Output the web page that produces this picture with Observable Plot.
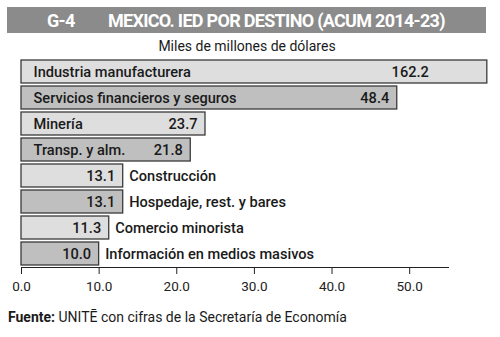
<!DOCTYPE html>
<html><head><meta charset="utf-8">
<script src="https://cdn.jsdelivr.net/npm/d3@7"></script>
<script src="https://cdn.jsdelivr.net/npm/@observablehq/plot@0.6"></script>
<style>
body{margin:0;background:#fff;font-family:Roboto,"Noto Sans",sans-serif;color:#1a1a1a;}
#wrap{position:relative;width:500px;height:337px;overflow:hidden;background:#fff;}
#title{position:absolute;left:7px;top:7px;width:479px;height:26px;background:#8b8b8b;color:#fff;font-weight:700;font-size:18px;line-height:27px;white-space:nowrap;letter-spacing:-0.7px;}
#title .num{position:absolute;left:40px;}
#title .txt{position:absolute;left:101px;}
#sub{position:absolute;left:0;top:37px;width:494px;text-align:center;font-size:14px;line-height:18px;}
#chart{position:absolute;left:0;top:52px;}
#cap{position:absolute;left:8px;top:308px;font-size:14px;line-height:18px;white-space:nowrap;}
</style></head>
<body><div id="wrap">
<div id="title"><span class="num">G-4</span><span class="txt">MEXICO. IED POR DESTINO (ACUM 2014-23)</span></div>
<div id="sub">Miles de millones de dólares</div>
<div id="chart"></div>
<div id="cap"><b>Fuente:</b> UNITĒ con cifras de la Secretaría de Economía</div>
</div>
<script>
const categories = ["Industria manufacturera","Servicios financieros y seguros","Minería","Transp. y alm.","Construcción","Hospedaje, rest. y bares","Comercio minorista","Información en medios masivos"];
const values = [162.2, 48.4, 23.7, 21.8, 13.1, 13.1, 11.3, 10.0];
const xTicks = [0, 10, 20, 30, 40, 50];
const tickLabels = ["0.0","10.0","20.0","30.0","40.0","50.0"];

const data = categories.map((c, i) => ({name: c, value: values[i], label: values[i].toFixed(1), shade: i % 2}));
const X_MAX = 55, X_CUT = 60, LABEL_CUT = 53.5, INSIDE = 20;
const H = 248, MT = 6, MB = 33, PAD = 0.1;
const step = (H - MT - MB) / (categories.length - PAD);
const bw = step * (1 - PAD);
const inside = data.filter(d => d.value >= INSIDE);
const outside = data.filter(d => d.value < INSIDE);
const txt = {fill: "#1a1a1a", fontSize: 14.6, fontWeight: 500};

const chart = Plot.plot({
  width: 500, height: H, marginTop: MT, marginBottom: MB, marginLeft: 21, marginRight: 52,
  style: {fontFamily: "Roboto, 'Noto Sans', sans-serif", fontSize: "13.5px", color: "#222", background: "transparent"},
  x: {domain: [0, X_MAX], ticks: xTicks, tickFormat: d => tickLabels[xTicks.indexOf(d)], tickSize: 7, tickPadding: 7, line: true, label: null},
  y: {domain: categories, paddingInner: PAD, paddingOuter: 0, axis: null},
  marks: [
    Plot.barX(data.filter(d => !d.shade), {x1: 0, x2: d => Math.min(d.value, X_CUT), y: "name", fill: "#dedede", stroke: "#3a3a3a", strokeWidth: 1.3}),
    Plot.barX(data.filter(d => d.shade), {x1: 0, x2: d => Math.min(d.value, X_CUT), y: "name", fill: "#bfbfbf", stroke: "#3a3a3a", strokeWidth: 1.3}),
    Plot.ruleX([0, X_CUT], {y: () => categories[0], insetTop: -6, insetBottom: bw, stroke: "#3a3a3a", strokeWidth: 1.2}),
    Plot.text(inside, {x: 0, y: "name", text: "name", textAnchor: "start", dx: 12, ...txt}),
    Plot.text(data, {x: d => Math.min(d.value, LABEL_CUT), y: "name", text: "label", textAnchor: "end", dx: -8, ...txt}),
    Plot.text(outside, {x: "value", y: "name", text: "name", textAnchor: "start", dx: 6, ...txt})
  ]
});
document.getElementById("chart").appendChild(chart);
</script>
</body></html>
